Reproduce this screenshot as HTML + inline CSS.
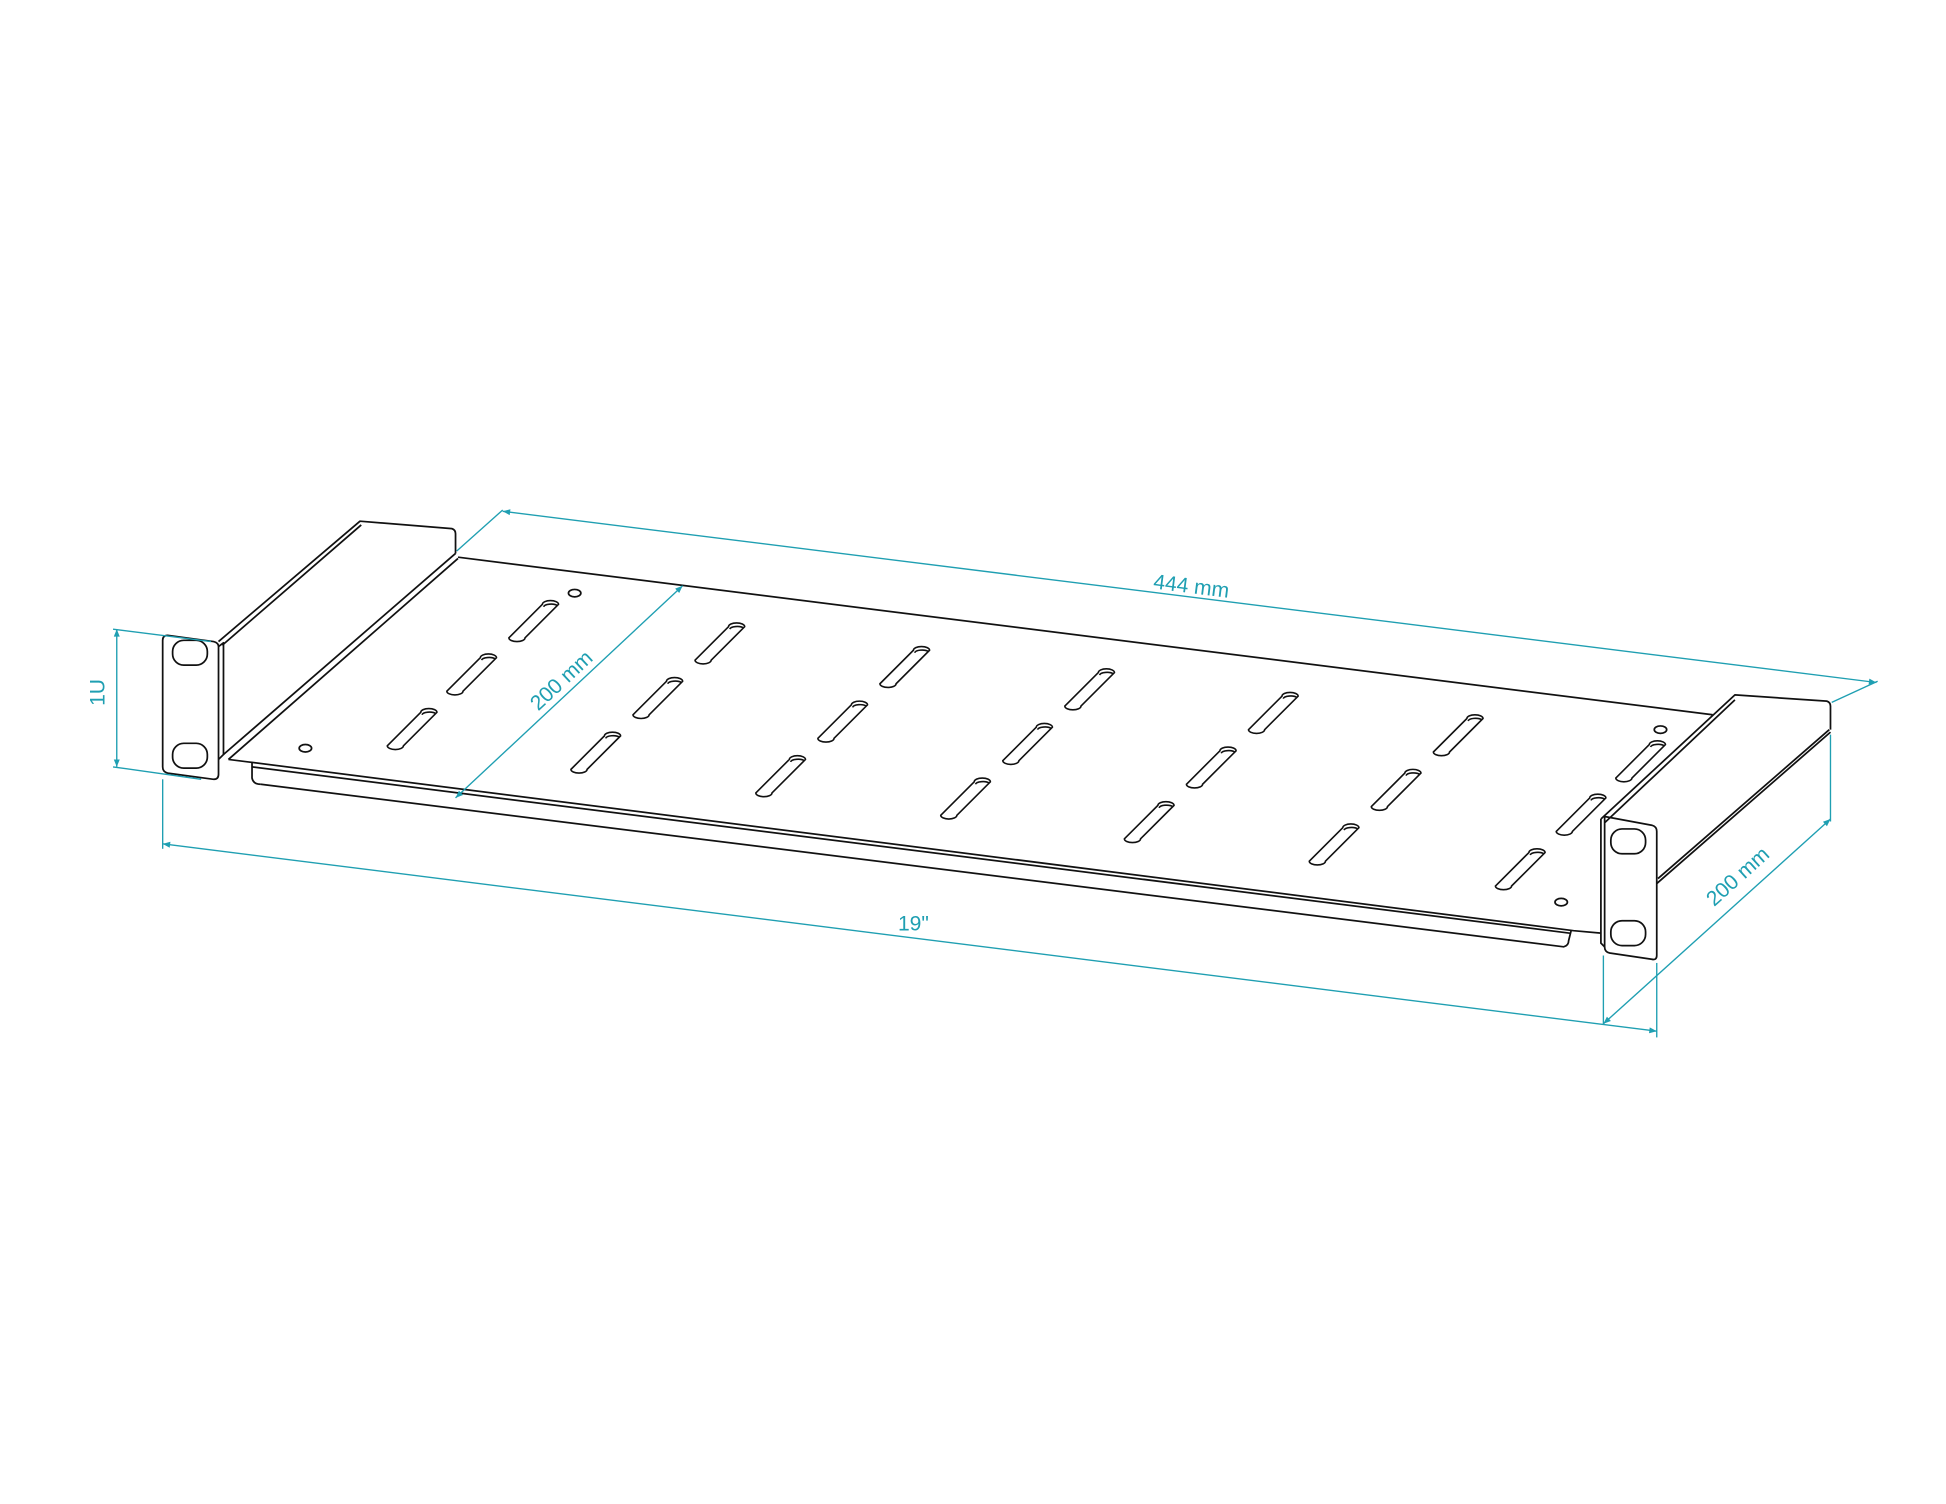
<!DOCTYPE html>
<html><head><meta charset="utf-8"><style>
html,body{margin:0;padding:0;background:#fff;}
svg{display:block}
text{font-family:"Liberation Sans",sans-serif;fill:#1f9fb2;font-size:17px}
</style></head><body>
<svg width="1946" height="1504" viewBox="0 0 1568 1212" xmlns="http://www.w3.org/2000/svg">
<defs>
<g id="slot" fill="none" stroke="#111" stroke-width="1.3">
<path d="M-20,14 L7,-13 A6.5,3 0 0 1 20,-13 L-7,14 A6.5,3 0 0 1 -20,14 Z"/>
<path d="M8,-11 A6,2.5 0 0 1 19,-12"/>
</g>
<marker id="ar" viewBox="0 0 10 10" refX="10" refY="5" markerWidth="9" markerHeight="6" orient="auto-start-reverse" markerUnits="userSpaceOnUse"><path d="M0,1 L10,5 L0,9 Z" fill="#1f9fb2"/></marker>
</defs>
<g fill="none" stroke="#111" stroke-width="1.4" stroke-linejoin="round">
<path d="M176,517 L290,420 L364,426 Q367,427 367,430 L367,446"/>
<path d="M179,520 L291,423"/>
<path d="M180,608 L367,446"/>
<path d="M184,612 L369,450"/>
<path d="M369,449 L1380,576"/>
<path d="M184,612 L200,614 L1268,750 L1290,752"/>
<path d="M203,614 L203,627 Q204,632 210,632"/>
<path d="M203,618 L1265,752"/>
<path d="M210,632 L1260,763 Q1264,762 1264,758 L1266,750"/>
<path d="M135,512 L172,517 Q176,518 176,521 L176,624 Q176,628 172,628 L135,623 Q131,622 131,618 L131,516 Q131,512 135,512 Z"/>
<path d="M176,521 L180,518 L180,608 L176,612"/>
<rect x="139" y="516" width="28" height="20" rx="9"/>
<rect x="139" y="599" width="28" height="20" rx="9"/>
<path d="M1290,660 L1398,560 L1472,565 Q1475,566 1475,569 L1475,588"/>
<path d="M1293,663 L1398,564"/>
<path d="M1335,712 L1475,590"/>
<path d="M1336,708 L1474,588"/>
<path d="M1293,658 L1331,665 Q1335,666 1335,670 L1335,770 Q1335,774 1331,773 L1297,768 Q1293,767 1293,763 Z"/>
<path d="M1290,660 L1290,760 L1293,763"/>
<rect x="1298" y="668" width="28" height="20" rx="9"/>
<rect x="1298" y="742" width="28" height="20" rx="9"/>
<ellipse cx="463" cy="478" rx="5" ry="3"/>
<ellipse cx="246" cy="603" rx="5" ry="3"/>
<ellipse cx="1338" cy="588" rx="5" ry="3"/>
<ellipse cx="1258" cy="727" rx="5" ry="3"/>
</g>
<use href="#slot" x="430" y="500"/><use href="#slot" x="380" y="543"/><use href="#slot" x="332" y="587"/>
<use href="#slot" x="580" y="518"/><use href="#slot" x="530" y="562"/><use href="#slot" x="480" y="606"/>
<use href="#slot" x="729" y="537"/><use href="#slot" x="679" y="581"/><use href="#slot" x="629" y="625"/>
<use href="#slot" x="878" y="555"/><use href="#slot" x="828" y="599"/><use href="#slot" x="778" y="643"/>
<use href="#slot" x="1026" y="574"/><use href="#slot" x="976" y="618"/><use href="#slot" x="926" y="662"/>
<use href="#slot" x="1175" y="592"/><use href="#slot" x="1125" y="636"/><use href="#slot" x="1075" y="680"/>
<use href="#slot" x="1322" y="613"/><use href="#slot" x="1274" y="656"/><use href="#slot" x="1225" y="700"/>
<g stroke="#1f9fb2" stroke-width="1.1" fill="none">
<path d="M368,444 L405,411"/>
<path d="M1476,566 L1513,549"/>
<path d="M405,412 L1512,550" marker-start="url(#ar)" marker-end="url(#ar)"/>
<path d="M550,472 L367,643" marker-start="url(#ar)" marker-end="url(#ar)"/>
<path d="M1475,592 L1475,662"/>
<path d="M1475,660 L1292,825" marker-start="url(#ar)" marker-end="url(#ar)"/>
<path d="M131,628 L131,684"/>
<path d="M1335,776 L1335,836"/>
<path d="M1292,770 L1292,826"/>
<path d="M131,680 L1335,831" marker-start="url(#ar)" marker-end="url(#ar)"/>
<path d="M91,507 L170,517"/>
<path d="M91,618 L162,628"/>
<path d="M94,507 L94,618" marker-start="url(#ar)" marker-end="url(#ar)"/>
</g>
<text x="960" y="478" text-anchor="middle" transform="rotate(7.1 960 472)">444 mm</text>
<text x="452" y="554" text-anchor="middle" transform="rotate(-43 452 548)">200 mm</text>
<text x="1400" y="712" text-anchor="middle" transform="rotate(-42 1400 706)">200 mm</text>
<text x="736" y="750" text-anchor="middle">19"</text>
<text x="89" y="563" text-anchor="middle" transform="rotate(-90 84 563)">1U</text>
</svg>
</body></html>
